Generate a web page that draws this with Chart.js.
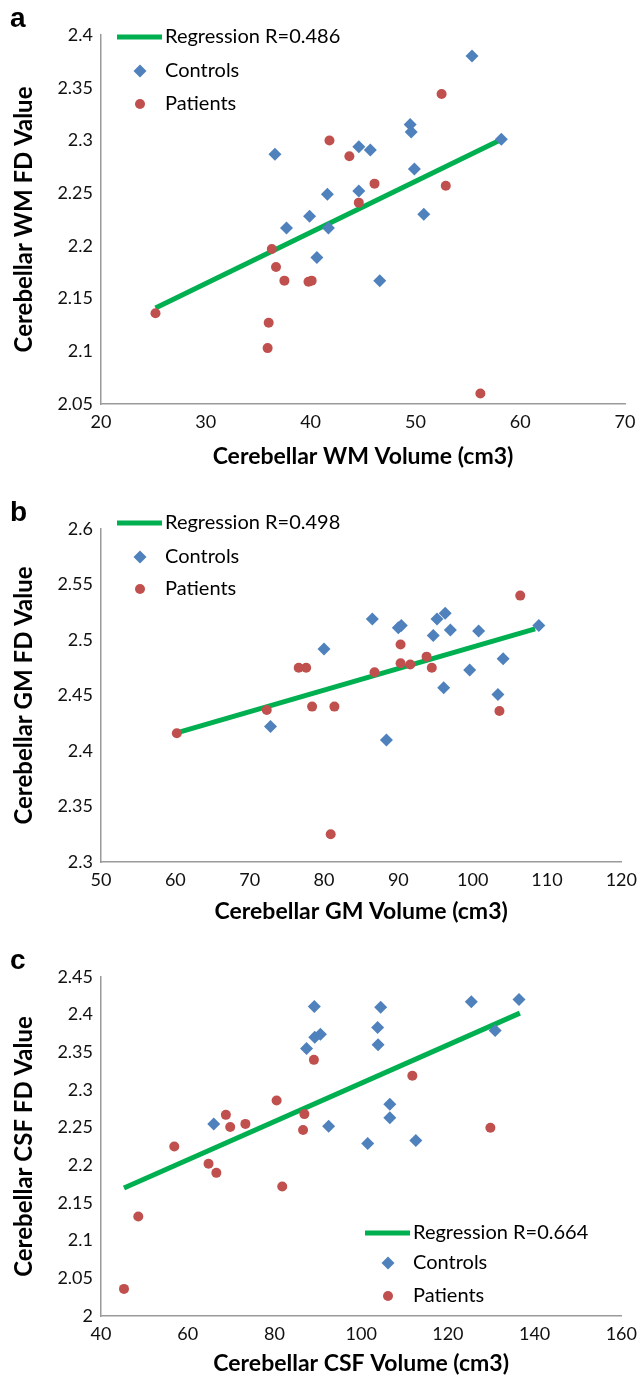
<!DOCTYPE html>
<html>
<head>
<meta charset="utf-8">
<script src="https://cdn.jsdelivr.net/npm/chart.js@4.4.1/dist/chart.umd.min.js"></script>
<style>
  html, body { margin: 0; padding: 0; background: #fff; }
  canvas { display: block; }
</style>
</head>
<body>
<canvas id="chartA" width="644" height="470"></canvas>
<canvas id="chartB" width="644" height="455"></canvas>
<canvas id="chartC" width="644" height="452"></canvas>
<script>
// panel a: white matter
let wmControlsX = [55.4, 36.6, 44.6, 45.7, 49.5, 49.6, 58.2, 49.9, 41.6, 44.6, 39.9, 37.7, 41.7, 40.6, 50.8, 46.6]
let wmControlsY = [2.380, 2.287, 2.294, 2.291, 2.315, 2.308, 2.301, 2.273, 2.249, 2.252, 2.228, 2.217, 2.217, 2.189, 2.230, 2.167]
let wmPatientsX = [52.5, 41.8, 43.7, 46.1, 52.9, 44.6, 36.3, 36.7, 37.5, 39.8, 40.1, 25.2, 36.0, 35.9, 56.2]
let wmPatientsY = [2.344, 2.300, 2.285, 2.259, 2.257, 2.241, 2.197, 2.180, 2.167, 2.166, 2.167, 2.136, 2.127, 2.103, 2.060]
let wmFitX = [25.2, 58.0]
let wmFitY = [2.141, 2.300]
let wmXTicks = [20, 30, 40, 50, 60, 70]
let wmYTicks = [2.05, 2.1, 2.15, 2.2, 2.25, 2.3, 2.35, 2.4]

// panel b: grey matter
let gmControlsX = [86.5, 90.0, 90.4, 95.2, 96.3, 94.7, 97.0, 100.8, 108.9, 80.0, 104.1, 99.6, 96.1, 103.4, 72.8, 88.4]
let gmControlsY = [2.519, 2.511, 2.513, 2.519, 2.524, 2.504, 2.509, 2.508, 2.513, 2.492, 2.483, 2.473, 2.457, 2.451, 2.422, 2.410]
let gmPatientsX = [106.4, 90.3, 93.8, 90.3, 91.6, 94.5, 76.6, 77.6, 86.8, 78.4, 81.4, 72.3, 103.6, 60.2, 80.9]
let gmPatientsY = [2.540, 2.496, 2.485, 2.479, 2.478, 2.475, 2.475, 2.475, 2.471, 2.440, 2.440, 2.437, 2.436, 2.416, 2.325]
let gmFitX = [60.3, 108.4]
let gmFitY = [2.4165, 2.510]
let gmXTicks = [50, 60, 70, 80, 90, 100, 110, 120]
let gmYTicks = [2.3, 2.35, 2.4, 2.45, 2.5, 2.55, 2.6]

// panel c: CSF
let csfControlsX = [89.2, 104.5, 125.4, 136.4, 130.9, 103.8, 103.9, 90.6, 89.3, 87.4, 106.6, 106.6, 66.0, 92.5, 101.5, 112.6]
let csfControlsY = [2.411, 2.410, 2.417, 2.420, 2.379, 2.383, 2.360, 2.374, 2.370, 2.355, 2.281, 2.263, 2.255, 2.252, 2.229, 2.233]
let csfPatientsX = [89.1, 111.8, 80.5, 68.8, 86.9, 69.8, 73.3, 86.6, 129.8, 56.9, 64.8, 66.6, 81.8, 48.6, 45.3]
let csfPatientsY = [2.340, 2.319, 2.286, 2.267, 2.268, 2.251, 2.255, 2.247, 2.250, 2.225, 2.202, 2.190, 2.172, 2.132, 2.036]
let csfFitX = [45.3, 136.6]
let csfFitY = [2.170, 2.402]
let csfXTicks = [40, 60, 80, 100, 120, 140, 160]
let csfYTicks = [2, 2.05, 2.1, 2.15, 2.2, 2.25, 2.3, 2.35, 2.4, 2.45]

let BLUE = '#4F81BD'
let RED = '#C0504D'
let GREEN = '#00B050'

function pairs(xs, ys) {
    return xs.map((x, i) => ({ x: x, y: ys[i] }))
}

// panel letter and legend, drawn on top of the plot
const panelDecor = {
    id: 'panelDecor',
    afterDraw(chart) {
        let o = chart.options.plugins.panelDecor
        let ctx = chart.ctx
        ctx.save()
        ctx.fillStyle = '#000'
        ctx.font = 'bold 28px "Liberation Sans"'
        ctx.textAlign = 'left'
        ctx.textBaseline = 'alphabetic'
        ctx.fillText(o.letter, 10, chart.chartArea.top - 8)

        ctx.font = '20px Lato'
        ctx.textBaseline = 'middle'
        let lx = o.legendX
        o.legendY.forEach((y, i) => {
            let ds = chart.data.datasets[o.legendOrder[i]]
            if (ds.showLine) {
                ctx.strokeStyle = ds.borderColor
                ctx.lineWidth = 5
                ctx.beginPath()
                ctx.moveTo(lx - 23, y)
                ctx.lineTo(lx + 22, y)
                ctx.stroke()
            } else if (ds.pointStyle === 'rectRot') {
                ctx.fillStyle = ds.backgroundColor
                ctx.beginPath()
                ctx.moveTo(lx - 6.5, y)
                ctx.lineTo(lx, y - 6.5)
                ctx.lineTo(lx + 6.5, y)
                ctx.lineTo(lx, y + 6.5)
                ctx.closePath()
                ctx.fill()
            } else {
                ctx.fillStyle = ds.backgroundColor
                ctx.beginPath()
                ctx.arc(lx, y, 5, 0, Math.PI * 2)
                ctx.fill()
            }
            ctx.fillStyle = '#000'
            ctx.fillText(ds.label, lx + 25, y)
        })
        ctx.restore()
    }
}

function makePanel(id, p) {
    let data = {
        datasets: [
            {
                label: 'Controls',
                data: pairs(p.cx, p.cy),
                pointStyle: 'rectRot',
                pointRadius: 6.5,
                backgroundColor: BLUE,
                borderColor: BLUE,
                borderWidth: 0
            },
            {
                label: 'Patients',
                data: pairs(p.px, p.py),
                pointStyle: 'circle',
                pointRadius: 5,
                backgroundColor: RED,
                borderColor: RED,
                borderWidth: 0
            },
            {
                label: p.fitLabel,
                data: pairs(p.fx, p.fy),
                showLine: true,
                borderColor: GREEN,
                backgroundColor: GREEN,
                borderWidth: 5,
                pointRadius: 0
            }
        ]
    }

    let tickFont = { family: 'Lato', size: 18 }

    new Chart(document.getElementById(id), {
        type: 'scatter',
        data: data,
        options: {
            responsive: false,
            animation: false,
            layout: { padding: { top: p.top, right: 19, bottom: 0, left: 0 } },
            plugins: {
                legend: { display: false },
                tooltip: { enabled: false },
                panelDecor: {
                    letter: p.letter,
                    legendX: p.legendX,
                    legendY: p.legendY,
                    legendOrder: [2, 0, 1]
                }
            },
            scales: {
                x: {
                    type: 'linear',
                    min: p.xTicks[0],
                    max: p.xTicks[p.xTicks.length - 1],
                    afterBuildTicks: s => { s.ticks = p.xTicks.map(v => ({ value: v })) },
                    afterFit: s => { s.height = p.xHeight },
                    grid: { display: false, drawTicks: false },
                    border: { display: true, color: '#9a9a9a', width: 1.5 },
                    ticks: { color: '#111', font: tickFont, padding: 7, maxRotation: 0, callback: v => String(v) },
                    title: { display: true, text: p.xTitle, color: '#000', font: { family: 'Lato', size: 23, weight: 'bold' }, padding: 0 }
                },
                y: {
                    type: 'linear',
                    min: p.yTicks[0],
                    max: p.yTicks[p.yTicks.length - 1],
                    afterBuildTicks: s => { s.ticks = p.yTicks.map(v => ({ value: v })) },
                    afterFit: s => { s.width = 101 },
                    grid: { display: false, drawTicks: false },
                    border: { display: true, color: '#9a9a9a', width: 1.5 },
                    ticks: { color: '#111', font: tickFont, padding: 8, callback: v => String(v) },
                    title: { display: true, text: p.yTitle, color: '#000', font: { family: 'Lato', size: 24, weight: 'bold' }, padding: { top: 10, bottom: 0 } }
                }
            }
        },
        plugins: [panelDecor]
    })
}

makePanel('chartA', {
    letter: 'a', top: 35, xHeight: 66,
    cx: wmControlsX, cy: wmControlsY, px: wmPatientsX, py: wmPatientsY, fx: wmFitX, fy: wmFitY,
    xTicks: wmXTicks, yTicks: wmYTicks,
    fitLabel: 'Regression R=0.486',
    xTitle: 'Cerebellar WM Volume (cm3)', yTitle: 'Cerebellar WM FD Value',
    legendX: 140, legendY: [37, 71, 104]
})

makePanel('chartB', {
    letter: 'b', top: 59, xHeight: 63,
    cx: gmControlsX, cy: gmControlsY, px: gmPatientsX, py: gmPatientsY, fx: gmFitX, fy: gmFitY,
    xTicks: gmXTicks, yTicks: gmYTicks,
    fitLabel: 'Regression R=0.498',
    xTitle: 'Cerebellar GM Volume (cm3)', yTitle: 'Cerebellar GM FD Value',
    legendX: 140, legendY: [53, 87, 119]
})

makePanel('chartC', {
    letter: 'c', top: 52, xHeight: 61,
    cx: csfControlsX, cy: csfControlsY, px: csfPatientsX, py: csfPatientsY, fx: csfFitX, fy: csfFitY,
    xTicks: csfXTicks, yTicks: csfYTicks,
    fitLabel: 'Regression R=0.664',
    xTitle: 'Cerebellar CSF Volume (cm3)', yTitle: 'Cerebellar CSF FD Value',
    legendX: 388, legendY: [308, 338, 371]
})
</script>
</body>
</html>
